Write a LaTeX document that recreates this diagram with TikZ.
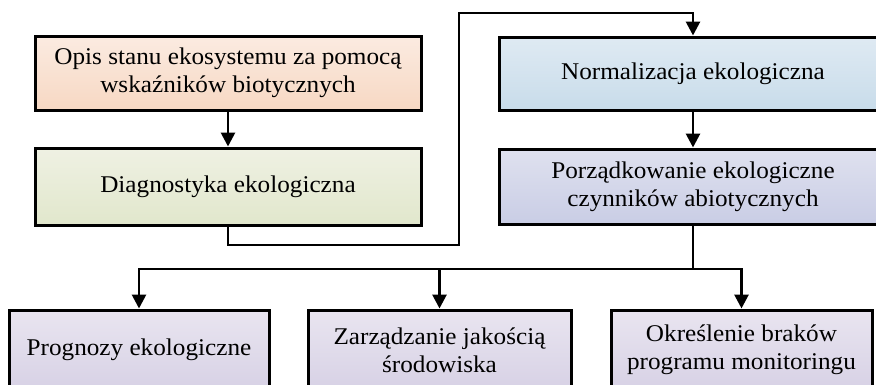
\documentclass[tikz,border=0pt]{standalone}
\usepackage{fontspec}
\setmainfont{Liberation Serif}[FakeStretch=1.05]
\usetikzlibrary{arrows.meta}

% box fills: light top, slightly darker bottom
\definecolor{peachTop}{HTML}{FBEBE1}
\definecolor{peachBot}{HTML}{F7D8C3}
\definecolor{greenTop}{HTML}{EFF1E3}
\definecolor{greenBot}{HTML}{E1E7CC}
\definecolor{blueTop}{HTML}{DFEAF3}
\definecolor{blueBot}{HTML}{C8DCEA}
\definecolor{slateTop}{HTML}{DFE1EF}
\definecolor{slateBot}{HTML}{C9CDE5}
\definecolor{lilacTop}{HTML}{E9E5F0}
\definecolor{lilacBot}{HTML}{D7D1E5}

\begin{document}
\begin{tikzpicture}[x=1pt,y=-1pt,
  box/.style={draw=black, line width=3pt, inner sep=0pt, align=center,
              font=\fontsize{24}{28}\selectfont},
  flow/.style={line width=2.8pt, -{Triangle[length=14pt,width=14pt]}},
  link/.style={line width=2.8pt}]
\useasboundingbox (0,0) rectangle (876,384);

% upper left column
\node[box, top color=peachTop, bottom color=peachBot,
      minimum width=386pt, minimum height=74pt] (opis) at (228,73)
  {Opis stanu ekosystemu za pomocą\\wskaźników biotycznych};
\node[box, top color=greenTop, bottom color=greenBot,
      minimum width=386pt, minimum height=77pt] (diag) at (228,186.5)
  {Diagnostyka ekologiczna};

% upper right column
\node[box, top color=blueTop, bottom color=blueBot,
      minimum width=388pt, minimum height=73pt] (norm) at (693,73.5)
  {Normalizacja ekologiczna};
\node[box, top color=slateTop, bottom color=slateBot,
      minimum width=388pt, minimum height=75pt] (porz) at (693,186.5)
  {Porządkowanie ekologiczne\\czynników abiotycznych};

% bottom row
\node[box, top color=lilacTop, bottom color=lilacBot,
      minimum width=260pt, minimum height=80pt] (prog) at (139,350)
  {Prognozy ekologiczne};
\node[box, top color=lilacTop, bottom color=lilacBot,
      minimum width=263pt, minimum height=80pt] (zarz) at (439.5,350)
  {Zarządzanie jakością\\środowiska};
\node[box, top color=lilacTop, bottom color=lilacBot,
      minimum width=261pt, minimum height=80pt] (okre) at (741.5,350)
  {Określenie braków\\programu monitoringu};

% routing points
\coordinate (loopLow) at (459,245);
\coordinate (loopTop) at (459,13);
\coordinate (split) at (693,269);

% connectors
\draw[flow] (opis) -- (diag);
\draw[flow] (diag.south) |- (loopLow) -- (loopTop) -| (norm.north);
\draw[flow] (norm) -- (porz);
\draw[link] (porz.south) -- (split);
\draw[flow] (split) -| (prog.north);
\draw[flow] (split) -| (zarz.north);
\draw[flow] (split) -| (okre.north);
\end{tikzpicture}
\end{document}
